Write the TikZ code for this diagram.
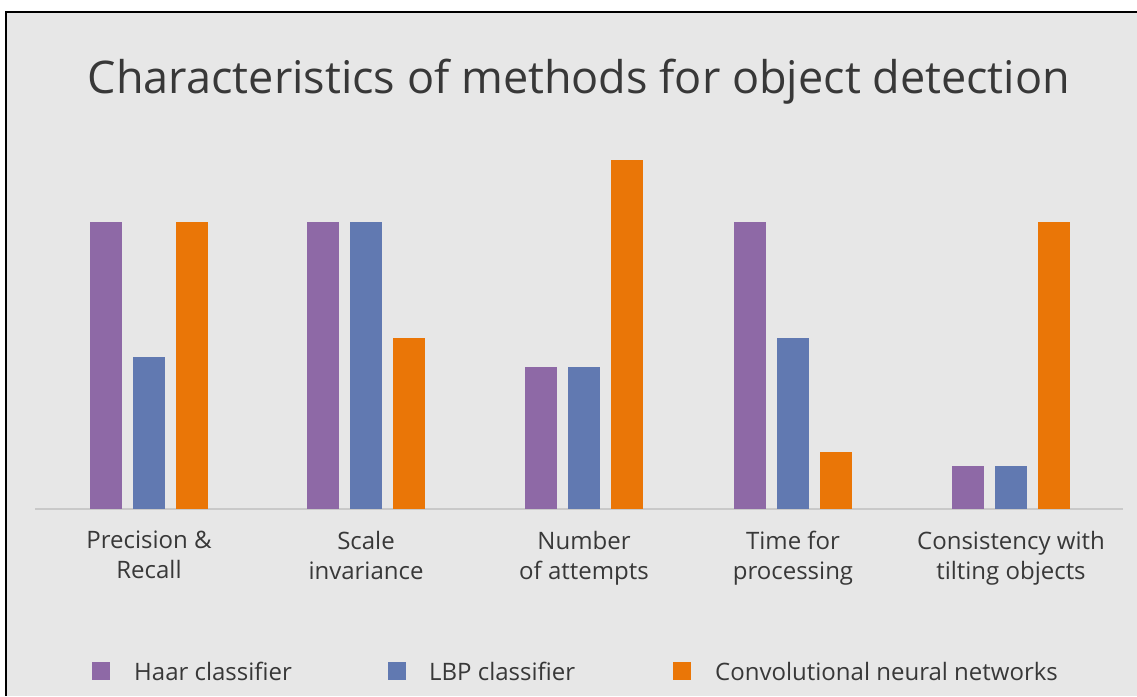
\documentclass[tikz,border=0pt]{standalone}
\usepackage{fontspec}
\setmainfont{Open Sans}
\begin{document}
\begin{tikzpicture}[x=1pt,y=-1pt,
  haar/.style={fill=haarc,draw=none},
  lbp/.style={fill=lbpc,draw=none},
  cnn/.style={fill=cnnc,draw=none},
  cat/.style={text=txt,font=\fontsize{24}{30}\selectfont,align=center,anchor=north,inner sep=0pt},
  leg/.style={text=txt,font=\fontsize{24}{28}\selectfont,anchor=west,inner sep=0pt},
  legbox/.style={minimum width=18pt,minimum height=18pt,inner sep=0pt,draw=none}]
\definecolor{bg}{HTML}{E7E7E7}
\definecolor{haarc}{HTML}{8E69A6}
\definecolor{lbpc}{HTML}{6179B1}
\definecolor{cnnc}{HTML}{EA7607}
\definecolor{txt}{HTML}{383838}
\definecolor{axisc}{HTML}{C9C9C9}
\useasboundingbox (0,0) rectangle (1137,696);
\fill[white] (0,0) rectangle (1137,696);
\fill[bg] (6,12) rectangle (1137,696);
\draw[black,line width=1.5pt] (1137,12) -- (6,12) -- (6,696);
% title
\node[text=txt,font=\fontsize{45}{50}\selectfont,inner sep=0pt,anchor=base] (title) at (579,93) {Characteristics of methods for object detection};
% axis
\draw[axisc,line width=1.5pt] (35,509) -- (1123,509);
% bars
\def\bw{32}
\foreach \gx/\a/\b/\c in {90/222/357/222, 307/222/222/338, 525/367/367/160, 734/222/338/452, 952/466/466/222}{
  \fill[haar] (\gx,509) rectangle ++(\bw,\a-509);
  \fill[lbp] (\gx+43,509) rectangle ++(\bw,\b-509);
  \fill[cnn] (\gx+86,509) rectangle ++(\bw,\c-509);
}
% category labels
\node[cat] (c1) at (149,531) {Precision \&\\Recall};
\node[cat] (c2) at (366,531) {Scale\\invariance};
\node[cat] (c3) at (584,531) {Number\\of attempts};
\node[cat] (c4) at (793,531) {Time for\\processing};
\node[cat] (c5) at (1011,531) {Consistency with\\tilting objects};
% legend
\node[legbox,fill=haarc] (k1) at (101,671) {};
\node[leg] (l1) at (134,671) {Haar classifier};
\node[legbox,fill=lbpc] (k2) at (397,671) {};
\node[leg] (l2) at (429,671) {LBP classifier};
\node[legbox,fill=cnnc] (k3) at (682,671) {};
\node[leg] (l3) at (715,671) {Convolutional neural networks};
\end{tikzpicture}
\end{document}
